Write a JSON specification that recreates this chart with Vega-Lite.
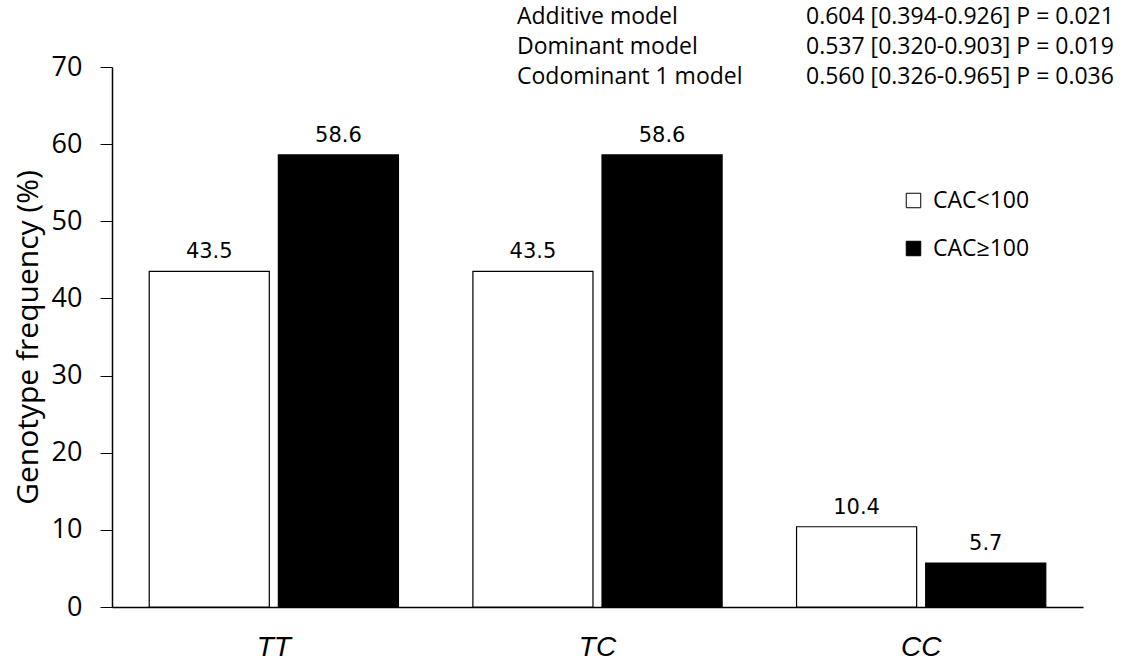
{
  "$schema": "https://vega.github.io/schema/vega-lite/v6.json",
  "autosize": {"type": "none"},
  "width": 971,
  "height": 540,
  "padding": {"left": 112, "top": 67, "right": 46, "bottom": 55},
  "background": "white",
  "config": {
    "view": {"stroke": null},
    "axis": {"grid": false, "domainColor": "black", "tickColor": "black", "labelColor": "black", "titleColor": "black"}
  },
  "datasets": {
    "freq": [
      {"genotype": "TT", "group": "CAC<100", "freq": 43.5},
      {"genotype": "TT", "group": "CAC≥100", "freq": 58.6},
      {"genotype": "TC", "group": "CAC<100", "freq": 43.5},
      {"genotype": "TC", "group": "CAC≥100", "freq": 58.6},
      {"genotype": "CC", "group": "CAC<100", "freq": 10.4},
      {"genotype": "CC", "group": "CAC≥100", "freq": 5.7}
    ],
    "models": [
      {"model": "Additive model", "estimate": "0.604 [0.394-0.926] P = 0.021"},
      {"model": "Dominant model", "estimate": "0.537 [0.320-0.903] P = 0.019"},
      {"model": "Codominant 1 model", "estimate": "0.560 [0.326-0.965] P = 0.036"}
    ]
  },
  "layer": [
    {
      "data": {"name": "freq"},
      "layer": [
        {
          "mark": {"type": "bar", "stroke": "black", "strokeWidth": 1.2},
          "encoding": {
            "x": {"field": "genotype", "type": "nominal", "sort": ["TT", "TC", "CC"],
              "scale": {"paddingInner": 0.23, "paddingOuter": 0.115},
              "axis": {"title": null, "labelAngle": 0, "ticks": false, "labelFont": "Liberation Sans", "labelFontStyle": "italic", "labelFontSize": 28, "labelPadding": 26, "domainWidth": 1.5}},
            "xOffset": {"field": "group", "type": "nominal", "sort": ["CAC<100", "CAC≥100"],
              "scale": {"paddingInner": 0.07, "paddingOuter": 0}},
            "y": {"field": "freq", "type": "quantitative",
              "scale": {"domain": [0, 70], "nice": false},
              "axis": {"title": "Genotype frequency (%)", "values": [0, 10, 20, 30, 40, 50, 60, 70], "tickSize": 12, "labelPadding": 18, "labelFont": "Open Sans", "labelFontSize": 27, "titleFont": "Open Sans", "titleFontSize": 30, "titleFontWeight": "normal", "titlePadding": 8, "domainWidth": 1.5}},
            "fill": {"field": "group", "type": "nominal", "sort": ["CAC<100", "CAC≥100"],
              "scale": {"domain": ["CAC<100", "CAC≥100"], "range": ["white", "black"]},
              "legend": {"title": null, "orient": "none", "legendX": 790, "legendY": 122, "symbolType": "square", "symbolSize": 210, "symbolStrokeColor": "black", "symbolStrokeWidth": 1, "labelFont": "Open Sans", "labelFontSize": 23, "labelColor": "black", "rowPadding": 24, "labelOffset": 8}}
          }
        },
        {
          "mark": {"type": "text", "font": "DejaVu Sans", "fontSize": 21, "baseline": "alphabetic", "dy": -13, "color": "black"},
          "encoding": {
            "x": {"field": "genotype", "type": "nominal", "sort": ["TT", "TC", "CC"]},
            "xOffset": {"field": "group", "type": "nominal", "sort": ["CAC<100", "CAC≥100"]},
            "y": {"field": "freq", "type": "quantitative"},
            "text": {"field": "freq", "type": "quantitative", "format": ".1f"}
          }
        }
      ]
    },
    {
      "data": {"name": "models"},
      "layer": [
        {
          "mark": {"type": "text", "font": "Open Sans", "fontSize": 23, "align": "left", "baseline": "middle", "color": "black"},
          "encoding": {
            "x": {"datum": "model", "type": "nominal", "scale": {"type": "point", "domain": ["model", "estimate"], "range": [405, 694], "padding": 0}, "axis": null},
            "y": {"field": "model", "type": "nominal", "sort": null, "scale": {"type": "point", "range": [-50, 10], "padding": 0}, "axis": null},
            "text": {"field": "model"}
          }
        },
        {
          "mark": {"type": "text", "font": "Open Sans", "fontSize": 23, "align": "left", "baseline": "middle", "color": "black"},
          "encoding": {
            "x": {"datum": "estimate", "type": "nominal", "axis": null},
            "y": {"field": "model", "type": "nominal", "sort": null, "axis": null},
            "text": {"field": "estimate"}
          }
        }
      ]
    }
  ],
  "resolve": {"scale": {"x": "independent", "y": "independent", "xOffset": "independent"}}
}
